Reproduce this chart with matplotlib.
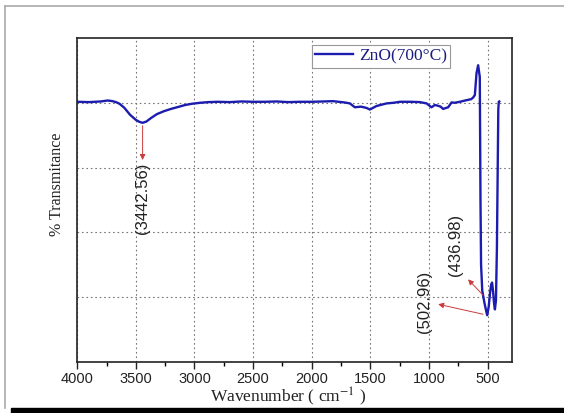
import matplotlib
matplotlib.use('Agg')
import matplotlib.pyplot as plt
from matplotlib.lines import Line2D
from matplotlib.patches import Rectangle
from matplotlib.ticker import MultipleLocator

plt.rcParams['mathtext.fontset'] = 'stix'

# FTIR spectrum of ZnO calcined at 700 °C
wavenumber = [4000, 3900, 3800, 3740, 3700, 3670, 3640, 3600, 3550, 3500,
              3470, 3442.56, 3410, 3370, 3320, 3260, 3200, 3140, 3080, 3020,
              2950, 2880, 2800, 2700, 2600, 2500, 2400, 2300, 2200, 2100,
              2000, 1900, 1820, 1720, 1674, 1632, 1580, 1532, 1504, 1447,
              1361, 1300, 1248, 1150, 1077, 1020, 978, 950, 935, 900,
              879, 836, 807, 780, 736, 679, 640, 623, 608, 594,
              580, 566, 560, 555, 545, 525, 510, 502.96, 490, 478,
              468, 461, 452, 444, 436.98, 428, 420, 413, 408, 404, 400]
transmittance = [80.4, 80.3, 80.5, 80.8, 80.6, 80.3, 79.8, 78.6, 76.4, 74.8,
                 74.2, 73.9, 74.3, 75.4, 76.6, 77.5, 78.2, 78.8, 79.4, 79.8,
                 80.1, 80.3, 80.4, 80.3, 80.5, 80.4, 80.4, 80.5, 80.3, 80.4,
                 80.4, 80.5, 80.6, 80.2, 79.9, 78.7, 78.9, 78.5, 78.0, 79.1,
                 79.9, 80.1, 80.4, 80.4, 80.3, 79.9, 78.7, 79.4, 79.3, 78.9,
                 78.2, 78.7, 80.2, 80.1, 80.4, 80.9, 81.2, 81.7, 82.5, 89.2,
                 91.7, 88.1, 50.0, 30.0, 22.0, 18.0, 15.5, 14.4, 17.0, 21.5,
                 24.0, 24.5, 21.5, 18.0, 16.2, 19.0, 35.0, 60.0, 78.0, 80.4, 80.5]

# labelled bands: (value text, arrow tail, arrow head, label position)
band_labels = ['(3442.56)', '(502.96)', '(436.98)']
arrow_tails = [(3442.56, 73.0), (538, 14.7), (538, 20.6)]
arrow_heads = [(3442.56, 62.4), (921, 17.8), (666, 25.5)]
label_pos = [(3442.56, 61.6), (1035, 18.5), (772, 36.1)]

xticks = [4000, 3500, 3000, 2500, 2000, 1500, 1000, 500]

fig = plt.figure(figsize=(5.64, 4.13), dpi=100)
ax = fig.add_axes([0.137, 0.124, 0.770, 0.783])

ax.plot(wavenumber, transmittance, color='#1c1cae', lw=1.7, label='ZnO(700°C)')

ax.set_xlim(4000, 295)
ax.set_ylim(0, 100)
ax.set_xticks(xticks)
ax.xaxis.set_minor_locator(MultipleLocator(250))
ax.set_yticks([20, 40, 60, 80])
ax.tick_params(axis='y', left=False, labelleft=False)
ax.tick_params(axis='x', which='major', direction='out', length=5, width=1,
               labelsize=10.5, colors='#222222', pad=2.5)
ax.tick_params(axis='x', which='minor', direction='out', length=3, width=1)
for lab in ax.get_xticklabels():
    lab.set_fontfamily('Liberation Sans')
ax.grid(True, which='major', ls=(0, (1.5, 2.5)), color='#777777', lw=0.8)
for sp in ax.spines.values():
    sp.set_linewidth(1.2)
    sp.set_color('#222222')

for txt, tail, head, pos in zip(band_labels, arrow_tails, arrow_heads, label_pos):
    ax.annotate('', xy=head, xytext=tail,
                arrowprops=dict(arrowstyle='-|>', color='#cc3b3b', lw=0.7,
                                mutation_scale=8, shrinkA=0, shrinkB=0))
    va = 'top' if txt == '(3442.56)' else 'center'
    ax.text(pos[0], pos[1], txt, rotation=90, ha='center', va=va,
            fontsize=12, family='Liberation Sans', color='#222222')

ax.text(-0.047, 0.549, '% Transmitance', rotation=90, ha='center', va='center',
        transform=ax.transAxes, fontsize=11.5, family='Liberation Serif', color='#222222')
ax.text(0.485, -0.108, 'Wavenumber ( cm$^{-1}$ )', ha='center', va='center',
        transform=ax.transAxes, fontsize=12.5, family='Liberation Serif', color='#222222')

leg = ax.legend(loc='upper left', bbox_to_anchor=(0.54, 0.98), borderaxespad=0,
                fancybox=False, framealpha=1, edgecolor='#999999',
                prop={'family': 'Liberation Serif', 'size': 12.5},
                handlelength=2.2, handletextpad=0.3, borderpad=0.2)
leg.get_frame().set_linewidth(0.8)
for t in leg.get_texts():
    t.set_color('#1c1c80')

# page border and bottom bar
fig.add_artist(Line2D([0.009, 1.0], [0.986, 0.986], color='#aaaaaa', lw=1.2))
fig.add_artist(Line2D([0.009, 0.009], [0.986, 0.012], color='#aaaaaa', lw=1.2))
fig.add_artist(Rectangle((0.019, 0.0), 0.981, 0.011, color='black'))

fig.savefig('out.png', dpi=100)
